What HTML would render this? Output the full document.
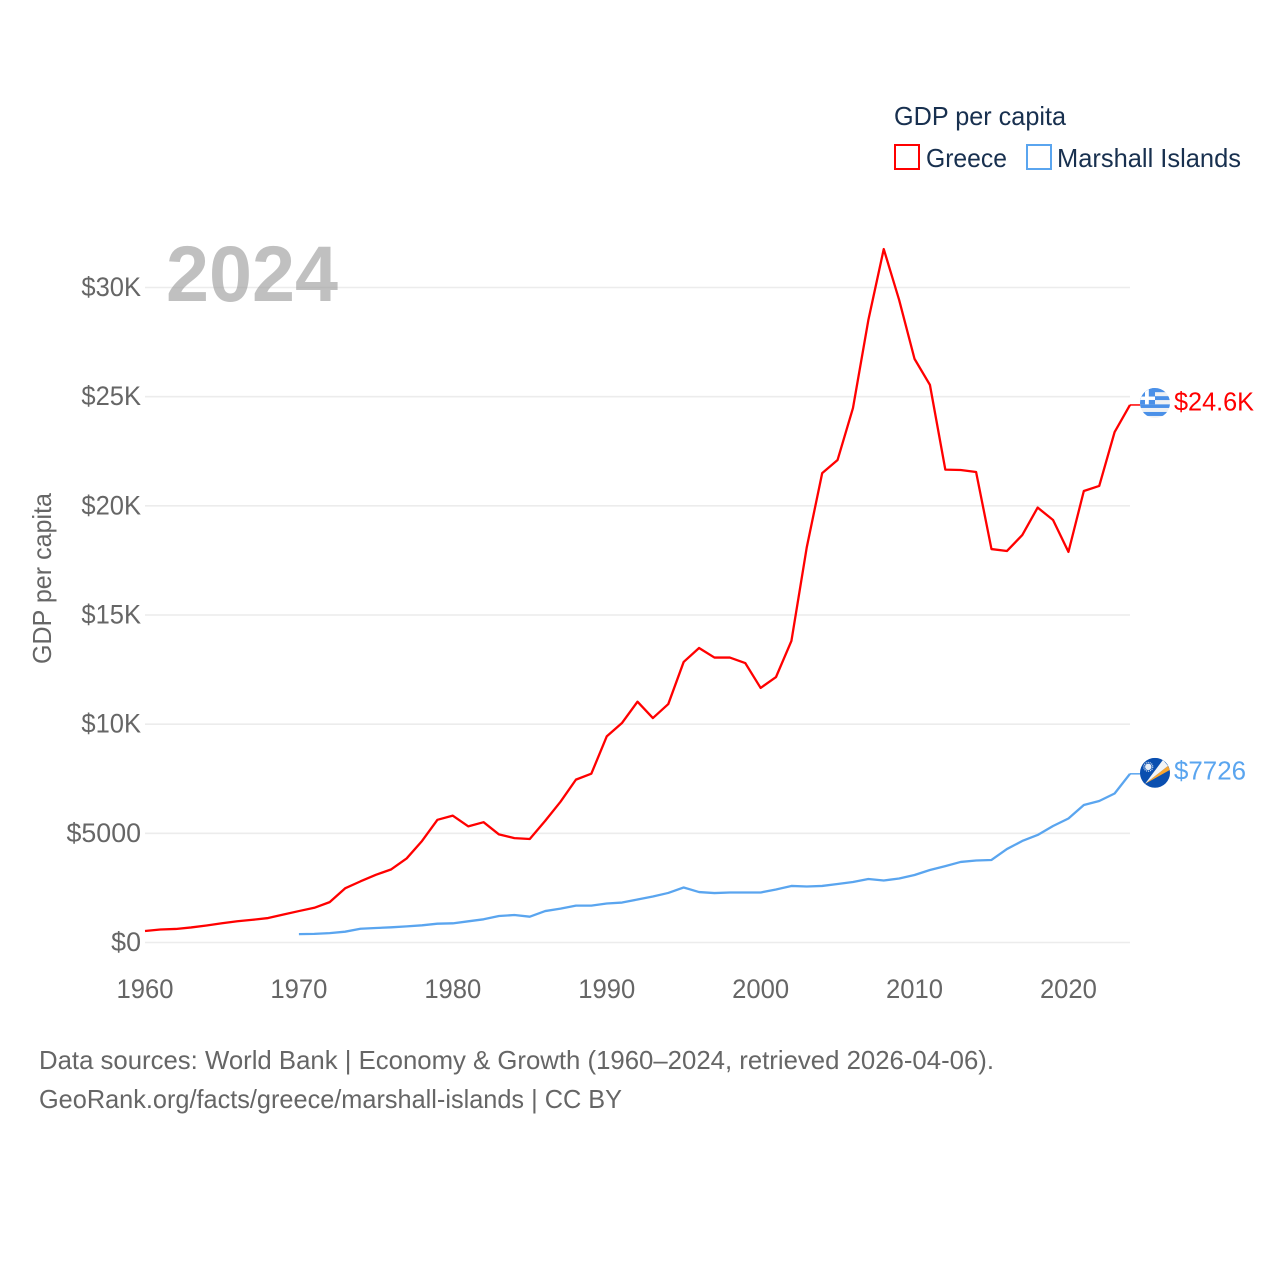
<!DOCTYPE html>
<html lang="en">
<head>
<meta charset="utf-8">
<title>GDP per capita: Greece vs Marshall Islands</title>
<style>
html,body{margin:0;padding:0;background:#fff;}
svg{display:block;}
text{font-family:"Liberation Sans",sans-serif;}
</style>
</head>
<body>
<svg id="chart" width="1280" height="1280" viewBox="0 0 1280 1280" xmlns="http://www.w3.org/2000/svg">
  <rect width="1280" height="1280" fill="#fff"/>
  <defs>
    <clipPath id="greece-clip"><circle cx="0" cy="0" r="15"/></clipPath>
    <clipPath id="marshall-clip"><circle cx="0" cy="0" r="15"/></clipPath>
  </defs>

  <g id="grid"></g>
  <g id="y-axis"></g>
  <g id="x-axis"></g>

  <text x="166" y="301" font-size="79" font-weight="700" fill="#999" fill-opacity="0.62" textLength="172" lengthAdjust="spacingAndGlyphs">2024</text>

  <text transform="translate(51,664) rotate(-90)" font-size="26" fill="#666" textLength="171" lengthAdjust="spacingAndGlyphs">GDP per capita</text>

  <g id="series"></g>

  <g id="greece-flag">
    <g clip-path="url(#greece-clip)">
      <rect x="-15" y="-15" width="30" height="30" fill="#eef1f4"/>
      <rect x="-15" y="-15" width="30" height="4.2" fill="#4a90e8"/>
      <rect x="-15" y="-6.8" width="30" height="3.9" fill="#4a90e8"/>
      <rect x="-15" y="1.4" width="30" height="3.6" fill="#4a90e8"/>
      <rect x="-15" y="9" width="30" height="4" fill="#4a90e8"/>
      <rect x="-15" y="-15" width="15" height="16.4" fill="#4a90e8"/>
      <rect x="-10" y="-15" width="3.8" height="16.4" fill="#fff"/>
      <rect x="-15" y="-6.4" width="15" height="3.4" fill="#fff"/>
    </g>
  </g>
  <g id="marshall-flag">
    <g clip-path="url(#marshall-clip)">
      <rect x="-15" y="-15" width="30" height="30" fill="#0a4fb0"/>
      <polygon points="-10,11 13,-7 15,-3" fill="#f7a530"/>
      <polygon points="-10,11 8,-13 13,-7" fill="#f2f4f7"/>
      <circle cx="-6.7" cy="-6" r="3.2" fill="#e6edf6"/>
      <circle cx="-6.7" cy="-6" r="4.4" fill="none" stroke="#e6edf6" stroke-width="1.2" stroke-dasharray="1 1"/>
    </g>
  </g>

  <text id="greece-end-label" x="1174" font-size="26" fill="#ff0000" textLength="80" lengthAdjust="spacingAndGlyphs"></text>
  <text id="marshall-end-label" x="1174" font-size="26" fill="#5aa5ef" textLength="72" lengthAdjust="spacingAndGlyphs"></text>

  <g>
    <text x="894" y="125" font-size="26" fill="#18304f" textLength="172" lengthAdjust="spacingAndGlyphs">GDP per capita</text>
    <rect x="895" y="145" width="24" height="24" fill="none" stroke="#ff0000" stroke-width="2"/>
    <text x="926" y="167" font-size="26" fill="#18304f" textLength="81" lengthAdjust="spacingAndGlyphs">Greece</text>
    <rect x="1027" y="145" width="24" height="24" fill="none" stroke="#5aa5ef" stroke-width="2"/>
    <text x="1057" y="167" font-size="26" fill="#18304f" textLength="184" lengthAdjust="spacingAndGlyphs">Marshall Islands</text>
  </g>

  <text x="39" y="1069" font-size="26" fill="#666" textLength="955" lengthAdjust="spacingAndGlyphs">Data sources: World Bank | Economy &amp; Growth (1960–2024, retrieved 2026-04-06).</text>
  <text x="39" y="1108" font-size="26" fill="#666" textLength="583" lengthAdjust="spacingAndGlyphs">GeoRank.org/facts/greece/marshall-islands | CC BY</text>
</svg>

<script>
const greeceStartYear = 1960;
const marshallStartYear = 1970;
const greeceValues = [
  527, 595, 620, 690, 780, 880, 975, 1040, 1120, 1280,
  1440, 1590, 1850, 2480, 2800, 3100, 3350, 3850, 4650, 5620,
  5810, 5320, 5510, 4950, 4780, 4740, 5570, 6450, 7460, 7730,
  9440, 10060, 11030, 10280, 10920, 12850, 13490, 13050, 13050, 12800,
  11660, 12160, 13810, 18110, 21500, 22100, 24480, 28510, 31760, 29430,
  26730, 25540, 21660, 21640, 21550, 18020, 17930, 18660, 19920, 19350,
  17890, 20680, 20910, 23380, 24620
];
const marshallValues = [
  385, 395, 430, 495, 630, 664, 695, 740, 787, 862,
  878, 970, 1062, 1213, 1260, 1182, 1440, 1550, 1690, 1690,
  1785, 1830, 1970, 2105, 2270, 2520, 2310, 2265, 2290, 2290,
  2290, 2430, 2590, 2565, 2590, 2680, 2770, 2910, 2840, 2930,
  3090, 3320, 3500, 3690, 3755, 3780, 4280, 4650, 4925, 5335,
  5680, 6300, 6480, 6825, 7726
];
const yTickValues = [0, 5000, 10000, 15000, 20000, 25000, 30000];
const yTickLabels = ["$0", "$5000", "$10K", "$15K", "$20K", "$25K", "$30K"];
const xTickYears = [1960, 1970, 1980, 1990, 2000, 2010, 2020];
const greeceEndLabel = "$24.6K";
const marshallEndLabel = "$7726";

const NS = "http://www.w3.org/2000/svg";
const plotLeft = 145, plotRight = 1130, plotBottom = 942.5;
const xScale = function (year) { return plotLeft + (year - 1960) * (plotRight - plotLeft) / 64; };
const yScale = function (value) { return plotBottom - value * 655 / 30000; };

function make(tag, attrs, parent) {
  const el = document.createElementNS(NS, tag);
  for (const k in attrs) el.setAttribute(k, attrs[k]);
  parent.appendChild(el);
  return el;
}

const gridGroup = document.getElementById("grid");
const yAxisGroup = document.getElementById("y-axis");
const xAxisGroup = document.getElementById("x-axis");
const seriesGroup = document.getElementById("series");

yTickValues.forEach(function (v, i) {
  const y = yScale(v);
  const line = make("line", {x1: plotLeft, x2: plotRight, y1: y, y2: y, stroke: "#ececec", "stroke-width": 1.6}, gridGroup);
  
  
  const label = make("text", {x: 141, y: y + 8.5, "text-anchor": "end", "font-size": 26.5, fill: "#666",
    textLength: yTickLabels[i].length * 14.9, lengthAdjust: "spacingAndGlyphs"}, yAxisGroup);
  
  
  label.textContent = yTickLabels[i];
});

xTickYears.forEach(function (year) {
  const label = make("text", {x: xScale(year), y: 998, "text-anchor": "middle", "font-size": 26.5, fill: "#666",
    textLength: 57, lengthAdjust: "spacingAndGlyphs"}, xAxisGroup);
  
  
  label.textContent = String(year);
});

function linePoints(values, startYear) {
  return values.map(function (v, i) {
    return xScale(startYear + i).toFixed(2) + "," + yScale(v).toFixed(2);
  }).join(" ");
}

const greeceLine = make("polyline", {points: linePoints(greeceValues, greeceStartYear), fill: "none", stroke: "#ff0000", "stroke-width": 2.3, "stroke-linejoin": "round"}, seriesGroup);


const marshallLine = make("polyline", {points: linePoints(marshallValues, marshallStartYear), fill: "none", stroke: "#5aa5ef", "stroke-width": 2.3, "stroke-linejoin": "round"}, seriesGroup);



const greeceEndY = yScale(greeceValues[greeceValues.length - 1]);
const marshallEndY = yScale(marshallValues[marshallValues.length - 1]);

const greeceConnector = make("line", {x1: plotRight, x2: 1141, y1: greeceEndY, y2: greeceEndY, stroke: "#ff0000", "stroke-width": 1.5}, seriesGroup);


const marshallConnector = make("line", {x1: plotRight, x2: 1141, y1: marshallEndY, y2: marshallEndY, stroke: "#5aa5ef", "stroke-width": 1.5}, seriesGroup);



document.getElementById("greece-flag").setAttribute("transform", "translate(1155," + (greeceEndY - 2) + ")");
document.getElementById("marshall-flag").setAttribute("transform", "translate(1155," + (marshallEndY - 1) + ")");

const greeceLabelEl = document.getElementById("greece-end-label");
greeceLabelEl.setAttribute("y", greeceEndY + 5.5);
greeceLabelEl.textContent = greeceEndLabel;
const marshallLabelEl = document.getElementById("marshall-end-label");
marshallLabelEl.setAttribute("y", marshallEndY + 5.5);
marshallLabelEl.textContent = marshallEndLabel;
</script>
</body>
</html>
